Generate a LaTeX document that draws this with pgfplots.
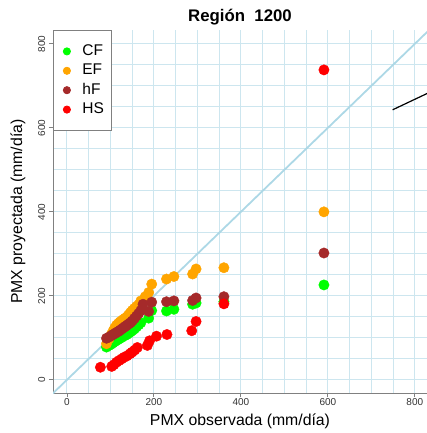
\documentclass[border=0pt]{standalone}
\usepackage{fontspec}
\setmainfont{Liberation Sans}
\usepackage{pgfplots}
\pgfplotsset{compat=1.18}
\definecolor{cfgreen}{HTML}{00FF00}
\definecolor{eforange}{HTML}{FFA500}
\definecolor{hfbrown}{HTML}{A52A2A}
\definecolor{hsred}{HTML}{FF0000}
\definecolor{onetoone}{HTML}{ADD8E6}
\definecolor{gridblue}{HTML}{CDE6EF}

\begin{document}
\begin{tikzpicture}
\useasboundingbox (-53pt,-39.7pt) rectangle (374pt,393.3pt);
\begin{axis}[
  at={(0pt,0pt)}, anchor=south west,
  scale only axis,
  width=374pt, height=363.3pt,
  xmin=-32, xmax=828, ymin=-32, ymax=833,
  axis x line*=bottom, axis y line*=left,
  axis line style={gray, line width=0.8pt, -},
  xtick={0,200,...,800}, ytick={0,200,...,800},
  minor xtick={0,50,...,800}, minor ytick={0,50,...,800},
  grid=both,
  grid style={gridblue, line width=0.9pt},
  major grid style={gridblue, line width=0.9pt},
  minor grid style={gridblue, line width=0.9pt},
  minor tick length=0pt,
  tick align=outside, major tick length=4pt,
  tick style={gray, line width=0.8pt},
  /pgf/number format/assume math mode=true,
  tick label style={font=\fontsize{10}{12}\selectfont, color=black!80},
  xticklabel style={inner sep=0pt, anchor=north},
  xticklabel shift=1pt,
  yticklabel style={rotate=90, inner sep=0pt, anchor=south},
  yticklabel shift=3.5pt,
  title={\textbf{Región\ \ 1200}},
  title style={font=\fontsize{16.8}{20}\selectfont, anchor=center, yshift=7pt},
  xlabel={PMX observada (mm/día)},
  ylabel={PMX proyectada (mm/día)},
  label style={font=\fontsize{15.8}{19}\selectfont},
  xlabel style={at={(axis description cs:0.5,-0.0762)}, anchor=center},
  ylabel style={at={(axis description cs:-0.0936,0.5)}, anchor=center, rotate=0},
  legend style={at={(0,1)}, anchor=north west, draw=gray, line width=0.8pt, fill=white,
    font=\fontsize{15.5}{18}\selectfont, inner xsep=6pt, inner ysep=12.5pt, row sep=2.4pt,
    nodes={inner sep=1.5pt, text height=11pt, text depth=3pt}},
  legend cell align=left,
  legend image code/.code={\path[draw=none, fill=none] (-7.5pt,0pt) -- (14pt,0pt); \fill[#1] (0pt,0pt) circle (3.6pt);},
]
% CF
\addplot[only marks, mark=*, mark size=5.2pt, color=cfgreen, mark options={draw=none, fill=cfgreen}] coordinates {
(91,78) (97,82) (102,85) (106,88) (110,91) (114,94) (118,96) (122,99) (126,101) (130,104)
(134,106) (138,108) (142,111) (146,114) (150,117) (155,121) (160,126) (165,131) (170,136)
(188,147) (195,165) (229,164) (246,168) (289,180) (297,183) (361,186) (591,226)};
\addlegendentry{CF}
% EF
\addplot[only marks, mark=*, mark size=5.2pt, color=eforange, mark options={draw=none, fill=eforange}] coordinates {
(91,86) (97,98) (102,108) (106,116) (110,124) (114,130) (118,134) (122,138) (126,141) (130,144)
(134,147) (138,150) (142,155) (146,160) (150,165) (155,170) (160,175) (165,179) (170,188)
(180,198) (188,208) (195,228) (229,240) (246,246) (289,252) (297,264) (361,267) (591,400)};
\addlegendentry{EF}
% hF
\addplot[only marks, mark=*, mark size=5.2pt, color=hfbrown, mark options={draw=none, fill=hfbrown}] coordinates {
(91,99) (97,102) (102,105) (106,108) (110,110) (114,113) (118,115) (122,118) (126,121) (130,124)
(134,127) (138,130) (142,133) (146,136) (150,140) (155,146) (160,152) (165,158) (170,165)
(175,180) (188,163) (195,185) (229,186) (246,188) (289,189) (297,195) (361,198) (591,302)};
\addlegendentry{hF}
% HS
\addplot[only marks, mark=*, mark size=5.2pt, color=hsred, mark options={draw=none, fill=hsred}] coordinates {
(77,30) (103,32) (108,36) (114,42) (120,46) (126,50) (132,54) (138,57) (145,62) (150,66)
(156,71) (162,77) (185,82) (190,93) (206,104) (230,108) (287,117) (297,139) (361,181) (591,738)};
\addlegendentry{HS}
% 1:1 line
\addplot[onetoone, line width=1.8pt, forget plot] coordinates {(-100,-100) (1000,1000)};
% black segment
\addplot[black, line width=1.2pt, forget plot] coordinates {(749,643) (900,717)};
\end{axis}
\end{tikzpicture}
\end{document}
